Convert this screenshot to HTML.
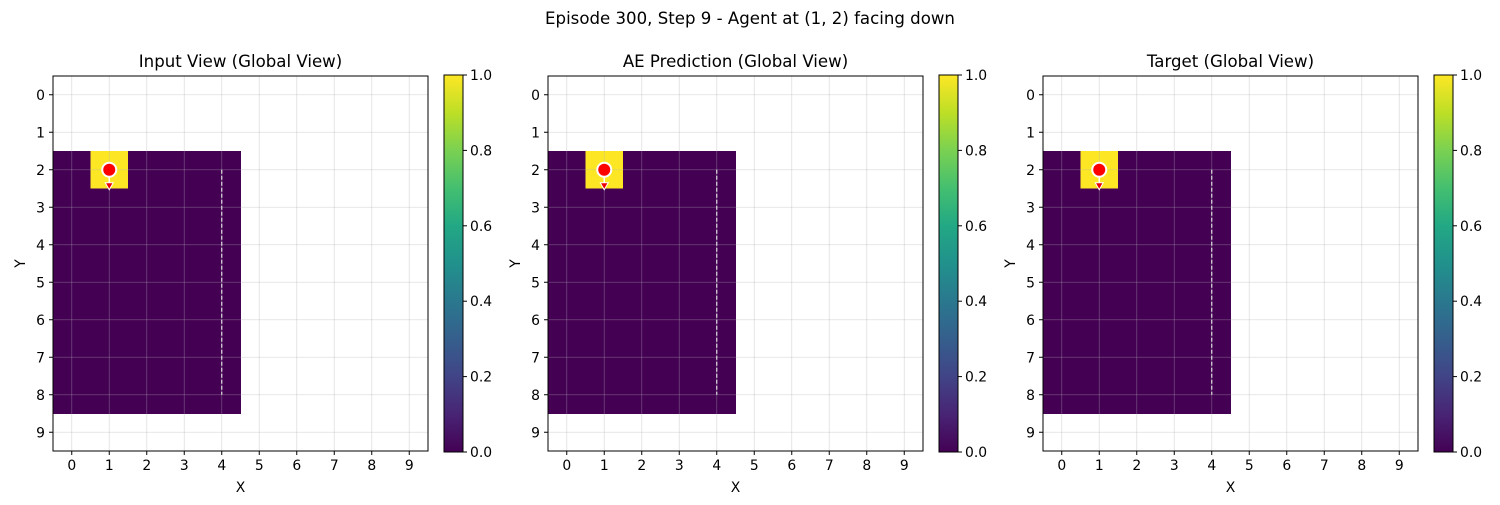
<!DOCTYPE html>
<html><head><meta charset="utf-8">
<style>
body{margin:0;background:#fff;width:1500px;height:500px;overflow:hidden;font-family:"Liberation Sans","DejaVu Sans",sans-serif;}
svg text{font-family:"DejaVu Sans","Liberation Sans",sans-serif;}
</style></head>
<body>
<svg id="fig" width="1500" height="500" xmlns="http://www.w3.org/2000/svg">
<defs>
<linearGradient id="viridis" x1="0" y1="1" x2="0" y2="0">
<stop offset="0" stop-color="#440154"/><stop offset="0.1" stop-color="#482475"/><stop offset="0.2" stop-color="#414487"/><stop offset="0.3" stop-color="#355f8d"/><stop offset="0.4" stop-color="#2a788e"/><stop offset="0.5" stop-color="#21918c"/><stop offset="0.6" stop-color="#22a884"/><stop offset="0.7" stop-color="#44bf70"/><stop offset="0.8" stop-color="#7ad151"/><stop offset="0.9" stop-color="#bddf26"/><stop offset="1" stop-color="#fde725"/>
</linearGradient>
</defs>
<text x="750" y="24" font-size="16.6" text-anchor="middle">Episode 300, Step 9 - Agent at (1, 2) facing down</text>
</svg>
<script>
const titles = ["Input View (Global View)", "AE Prediction (Global View)", "Target (Global View)"];
const panelLeft = [53, 548, 1043];
const ticks = [0,1,2,3,4,5,6,7,8,9];
const cbTicks = [0.0,0.2,0.4,0.6,0.8,1.0];
const knownRows = [2,3,4,5,6,7,8];
const knownCols = [0,1,2,3,4];
const agent = [1,2];
const wallX = 4, wallY0 = 2, wallY1 = 8;
const NS = "http://www.w3.org/2000/svg";
const svg = document.getElementById("fig");
function mk(tag, attrs, parent){const e=document.createElementNS(NS,tag);for(const k in attrs)e.setAttribute(k,attrs[k]);(parent||svg).appendChild(e);return e;}
const top0 = 76, size = 375, cell = size/10, FS = 13.9;
panelLeft.forEach((L, p) => {
  const g = mk("g", {});
  
  
  const sx = v => L + (v + 0.5) * cell;
  const sy = v => top0 + (v + 0.5) * cell;
  const cellRect = (c, r, col) => mk("rect", {x:sx(c)-cell/2, y:sy(r)-cell/2, width:cell+0.5, height:cell+0.5, fill:col}, g);
  knownRows.forEach(r => knownCols.forEach(c => {
    const v = (c===agent[0] && r===agent[1]) ? 1 : 0;
    const el = cellRect(c, r, v ? "#fde725" : "#440154");
    
    
  }));
  ticks.forEach(t => {
    mk("line", {x1:sx(t), x2:sx(t), y1:top0, y2:top0+size, stroke:"#b0b0b0", "stroke-width":0.8, opacity:0.4}, g);
    mk("line", {y1:sy(t), y2:sy(t), x1:L, x2:L+size, stroke:"#b0b0b0", "stroke-width":0.8, opacity:0.4}, g);
  });
  const wall = mk("line", {x1:sx(wallX), x2:sx(wallX), y1:sy(wallY0), y2:sy(wallY1), stroke:"#ddd", "stroke-width":1.2, "stroke-dasharray":"4,2"}, g);
  
  
  mk("line", {x1:sx(agent[0]), x2:sx(agent[0]), y1:sy(agent[1]), y2:sy(agent[1])+15, stroke:"#fff", "stroke-width":1.5}, g);
  mk("polygon", {points:`${sx(agent[0])-4},${sy(agent[1])+13} ${sx(agent[0])+4},${sy(agent[1])+13} ${sx(agent[0])},${sy(agent[1])+20}`, fill:"#e00", stroke:"#fff", "stroke-width":1}, g);
  const dot = mk("circle", {cx:sx(agent[0]), cy:sy(agent[1]), r:7, fill:"#f00", stroke:"#fff", "stroke-width":2}, g);
  
  
  mk("rect", {x:L, y:top0, width:size, height:size, fill:"none", stroke:"#000", "stroke-width":1}, g);
  ticks.forEach(t => {
    mk("line", {x1:sx(t), x2:sx(t), y1:top0+size, y2:top0+size+4, stroke:"#000"}, g);
    const tx = mk("text", {x:sx(t), y:top0+size+19, "font-size":FS, "text-anchor":"middle"}, g); tx.textContent = t;
    mk("line", {x1:L-4, x2:L, y1:sy(t), y2:sy(t), stroke:"#000"}, g);
    const ty = mk("text", {x:L-8, y:sy(t)+5, "font-size":FS, "text-anchor":"end"}, g); ty.textContent = t;
  });
  const xl = mk("text", {x:L+size/2, y:492, "font-size":FS, "text-anchor":"middle"}, g); xl.textContent = "X";
   
  const yl = mk("text", {x:L-28, y:top0+size/2, "font-size":FS, "text-anchor":"middle", transform:`rotate(-90 ${L-28} ${top0+size/2})`}, g);
  yl.textContent = "Y";
   
  const tt = mk("text", {x:L+size/2, y:67, "font-size":16.6, "text-anchor":"middle"}, g); tt.textContent = titles[p];
   
  const cx = L + 391, cw = 19, ct = 75, ch = 377;
  const cb = mk("rect", {x:cx, y:ct, width:cw, height:ch, fill:"url(#viridis)", stroke:"#000", "stroke-width":1}, g);
   
  cbTicks.forEach(v => {
    const yy = ct + ch - v*ch;
    mk("line", {x1:cx+cw, x2:cx+cw+4, y1:yy, y2:yy, stroke:"#000"}, g);
    const t = mk("text", {x:cx+cw+7, y:yy+5, "font-size":FS}, g); t.textContent = v.toFixed(1);
  });
});
</script>
</body></html>
